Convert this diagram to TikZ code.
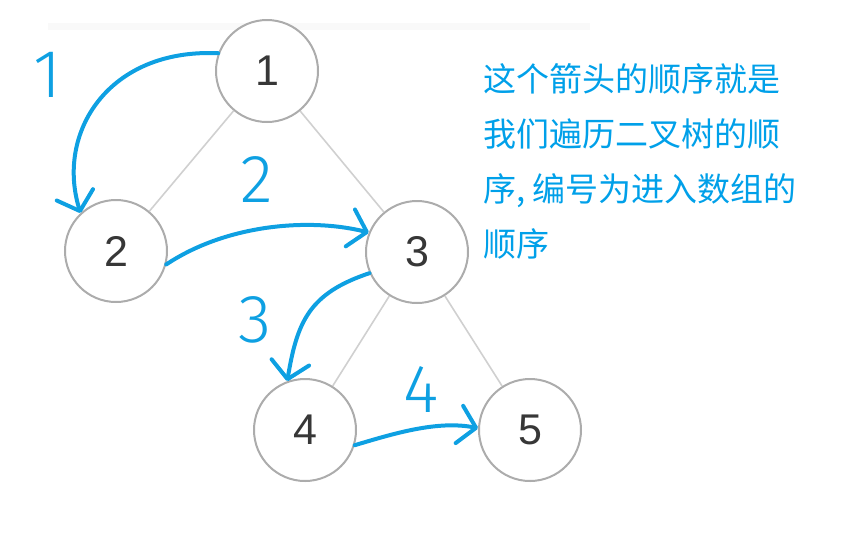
\documentclass[tikz,border=0pt]{standalone}
\usepackage{fontspec}
\usepackage{tikz}
\usetikzlibrary{arrows.meta}
\setmainfont{Liberation Sans}
\newfontfamily\cjkfont{Noto Sans CJK SC}
\newfontfamily\handfont{Fira Sans Light}
\definecolor{handblue}{RGB}{14,160,226}
\definecolor{noteblue}{RGB}{0,160,233}
\definecolor{ringgray}{RGB}{172,172,172}
\definecolor{edgegray}{RGB}{208,208,208}
\definecolor{digitgray}{RGB}{55,55,55}

\begin{document}
\begin{tikzpicture}[
  x=1pt, y=-1pt,
  treenode/.style={circle, draw=ringgray, line width=2pt, fill=white,
                   minimum size=102pt, inner sep=0pt, text=digitgray,
                   font=\fontsize{43}{43}\selectfont},
  edge/.style={draw=edgegray, line width=1.6pt},
  handarrow/.style={draw=handblue, line width=4pt, line cap=round,
                    line join=round,
                    -{Straight Barb[length=17pt, width=38pt, round]}},
  handnum/.style={text=handblue, inner sep=0pt,
                  font=\handfont\fontsize{68}{68}\selectfont},
  note/.style={text=noteblue, align=left, inner sep=0pt,
               font=\cjkfont\fontsize{33}{55}\selectfont}
]
  \useasboundingbox (0,0) rectangle (856,539);
  \fill[black!2.5] (48,23) rectangle (590,30);

  % tree
  \node[treenode] (n1) at (267,71)  {1};
  \node[treenode] (n2) at (116,251) {2};
  \node[treenode] (n3) at (417,252) {3};
  \node[treenode] (n4) at (305,430) {4};
  \node[treenode] (n5) at (530,430) {5};
  \draw[edge] (n1) -- (n2);
  \draw[edge] (n1) -- (n3);
  \draw[edge] (n3) -- (n4);
  \draw[edge] (n3) -- (n5);

  % visiting order
  \draw[handarrow] (n1.160) .. controls +(-110,-5) and +(-25,-80) .. (n2.133);
  \draw[handarrow] (n2.-15) .. controls +(60,-40) and +(-60,-15) .. (n3.158);
  \draw[handarrow] (n3.204) .. controls +(-60,20) and +(10,-60) .. (n4.110);
  \draw[handarrow] (n4.-17) .. controls +(40,-12) and +(-40,-8) .. (n5.178);
  \node[handnum] (s1) at (48,75)  {1};
  \node[handnum] (s2) at (257,180) {2};
  \node[handnum] (s3) at (255,320) {3};
  \node[handnum] (s4) at (421,390) {4};

  \node[note, anchor=north west] (note) at (483,63)
    {这个箭头的顺序就是\\我们遍历二叉树的顺\\序, 编号为进入数组的\\顺序};
\end{tikzpicture}
\end{document}
